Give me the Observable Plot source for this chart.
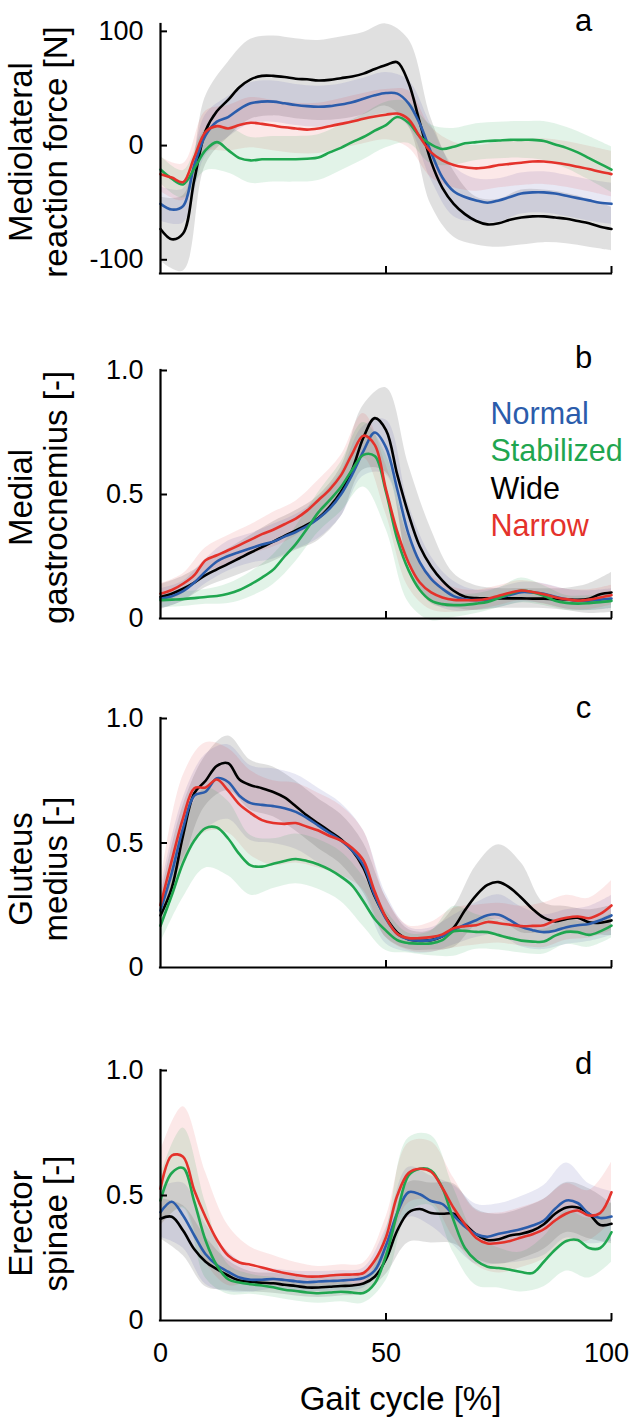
<!DOCTYPE html>
<html>
<head>
<meta charset="utf-8">
<script src="https://cdn.jsdelivr.net/npm/d3@7"></script>
<script src="https://cdn.jsdelivr.net/npm/@observablehq/plot@0.6"></script>
<style>
  html, body { margin: 0; padding: 0; background: #fff; }
  #chart { width: 629px; }
  #chart svg { display: block; }
</style>
</head>
<body>
<div id="chart"></div>
<script>
// ---------- categories ----------
const gaitPct = [0,2.5,5,7.5,10,12.5,15,17.5,20,22.5,25,27.5,30,32.5,35,37.5,40,42.5,45,47.5,50,52.5,55,57.5,60,62.5,65,67.5,70,72.5,75,77.5,80,82.5,85,87.5,90,92.5,95,97.5,100];
const sdPct = [0,5,10,15,20,25,30,35,40,45,50,55,60,65,70,75,80,85,90,95,100];
const conditions = ["Normal", "Stabilized", "Wide", "Narrow"];
const conditionColors = ["#2b5cab", "#1fa64f", "#000000", "#e4322b"];
const bandColors = ["#4a4aa8", "#1fa64f", "#000000", "#e4322b"];
const bandOpacity = [0.13, 0.13, 0.12, 0.11];

// ---------- a: mediolateral reaction force [N] ----------
const forceNormal = [-51,-56,-53,-17,9,21,25,32,37,38.5,38.5,37,35.5,34.5,34,34.5,36,38,41,44,46,45.5,37,19,-6,-28,-40,-45,-48,-50,-48,-45,-42,-41,-41,-42,-44,-46,-48,-50,-51];
const forceStabilized = [-21,-29,-34,-20,-4,3,-4,-11,-13,-12,-12,-12,-12,-11.5,-10.5,-6,-2,3,7.5,13,18,25,20,8,1,-3,-1,2,3,4,4.5,5,5,5,4,1,-2,-6,-11,-16,-21];
const forceWide = [-73,-82,-77,-30,13,30,40,51,58,61,61,60,58.5,58,57,57.5,59,60.5,63,67,70.5,73,55,20,-14,-37,-51,-60,-66,-69,-68,-65,-63,-62,-62,-63,-64,-66,-68,-71,-73];
const forceNarrow = [-25,-28,-32,-10,12,17,15,18,20,19,17.5,16,15,14,15,17,19,21,23.5,25.5,27,28,23,7.5,-6,-13,-17,-19,-20,-19,-17,-16,-15,-14,-14,-15,-16.5,-18.5,-20.5,-23,-25];
const forceNormalSD = [15,15,18,18,18,18,18,18,18,18,18,20,24,22,19,19,18,18,18,18,18];
const forceStabilizedSD = [12,12,18,20,20,20,20,20,20,20,20,18,17,16,16,16,16,17,18,19,20];
const forceWideSD = [28,33,30,33,35,35,35,35,36,36,36,38,38,29,21,21,24,23,22,21,19];
const forceNarrowSD = [15,16,18,20,22,22,22,22,22,22,22,25,22,20,20,20,20,20,20,20,20];

// ---------- b: medial gastrocnemius [-] ----------
const gastNormal = [0.08,0.09,0.11,0.145,0.19,0.23,0.252,0.268,0.283,0.298,0.31,0.33,0.349,0.372,0.403,0.443,0.5,0.58,0.675,0.75,0.69,0.52,0.34,0.226,0.16,0.12,0.09,0.078,0.074,0.076,0.084,0.095,0.106,0.105,0.1,0.088,0.078,0.071,0.072,0.076,0.08];
const gastStabilized = [0.074,0.076,0.078,0.082,0.087,0.091,0.1,0.115,0.138,0.165,0.197,0.25,0.3,0.362,0.428,0.477,0.53,0.6,0.66,0.655,0.51,0.32,0.195,0.115,0.072,0.058,0.054,0.055,0.06,0.067,0.083,0.1,0.113,0.106,0.092,0.072,0.063,0.06,0.062,0.066,0.071];
const gastWide = [0.087,0.1,0.12,0.145,0.175,0.198,0.22,0.243,0.266,0.288,0.31,0.333,0.355,0.378,0.405,0.45,0.51,0.6,0.73,0.808,0.76,0.58,0.42,0.29,0.21,0.153,0.112,0.088,0.082,0.081,0.081,0.081,0.081,0.08,0.08,0.078,0.077,0.075,0.08,0.098,0.105];
const gastNarrow = [0.1,0.115,0.14,0.175,0.235,0.255,0.275,0.296,0.318,0.34,0.358,0.38,0.403,0.435,0.477,0.52,0.577,0.664,0.737,0.7,0.52,0.35,0.225,0.145,0.105,0.085,0.075,0.074,0.074,0.08,0.092,0.104,0.113,0.107,0.098,0.086,0.078,0.072,0.076,0.085,0.094];
const gastNormalSD = [0.04,0.04,0.05,0.06,0.06,0.07,0.07,0.08,0.09,0.1,0.11,0.12,0.09,0.06,0.04,0.04,0.04,0.04,0.04,0.04,0.04];
const gastStabilizedSD = [0.03,0.03,0.03,0.04,0.05,0.06,0.07,0.08,0.1,0.13,0.15,0.13,0.08,0.05,0.04,0.04,0.05,0.04,0.03,0.03,0.03];
const gastWideSD = [0.05,0.05,0.05,0.06,0.07,0.08,0.08,0.09,0.1,0.13,0.17,0.2,0.15,0.07,0.05,0.04,0.04,0.04,0.045,0.06,0.08];
const gastNarrowSD = [0.04,0.04,0.05,0.06,0.06,0.07,0.07,0.08,0.08,0.09,0.1,0.1,0.07,0.05,0.04,0.04,0.04,0.04,0.04,0.04,0.04];

// ---------- c: gluteus medius [-] ----------
const gluteNormal = [0.229,0.38,0.56,0.69,0.706,0.76,0.745,0.69,0.66,0.653,0.648,0.64,0.625,0.6,0.57,0.54,0.51,0.47,0.41,0.29,0.195,0.135,0.112,0.108,0.11,0.125,0.15,0.172,0.19,0.21,0.212,0.19,0.163,0.15,0.142,0.148,0.162,0.17,0.175,0.19,0.209];
const gluteStabilized = [0.168,0.29,0.42,0.51,0.56,0.562,0.518,0.455,0.41,0.405,0.417,0.428,0.436,0.428,0.414,0.393,0.365,0.329,0.265,0.195,0.148,0.11,0.098,0.096,0.097,0.11,0.145,0.147,0.143,0.142,0.13,0.118,0.108,0.104,0.104,0.128,0.143,0.142,0.131,0.145,0.168];
const gluteWide = [0.209,0.32,0.53,0.7,0.75,0.81,0.82,0.755,0.732,0.72,0.705,0.683,0.648,0.61,0.578,0.547,0.515,0.47,0.4,0.285,0.2,0.14,0.113,0.107,0.11,0.125,0.16,0.23,0.29,0.332,0.343,0.32,0.28,0.235,0.2,0.185,0.195,0.2,0.182,0.18,0.189];
const gluteNarrow = [0.251,0.43,0.6,0.72,0.723,0.755,0.71,0.655,0.62,0.592,0.58,0.577,0.58,0.565,0.55,0.528,0.51,0.48,0.43,0.305,0.2,0.135,0.118,0.118,0.122,0.133,0.158,0.166,0.17,0.183,0.178,0.172,0.166,0.167,0.17,0.189,0.2,0.205,0.198,0.215,0.249];
const gluteNormalSD = [0.08,0.12,0.15,0.15,0.15,0.15,0.15,0.15,0.15,0.14,0.1,0.05,0.05,0.06,0.07,0.08,0.08,0.07,0.07,0.07,0.08];
const gluteStabilizedSD = [0.07,0.14,0.16,0.15,0.12,0.1,0.1,0.1,0.1,0.1,0.08,0.04,0.05,0.1,0.07,0.06,0.05,0.05,0.05,0.05,0.05];
const gluteWideSD = [0.07,0.12,0.1,0.11,0.1,0.1,0.1,0.1,0.1,0.1,0.08,0.04,0.04,0.08,0.12,0.15,0.14,0.06,0.05,0.05,0.06];
const gluteNarrowSD = [0.08,0.17,0.18,0.17,0.17,0.17,0.16,0.15,0.14,0.12,0.08,0.05,0.06,0.08,0.08,0.08,0.08,0.09,0.09,0.08,0.1];

// ---------- d: erector spinae [-] ----------
const erectorNormal = [0.433,0.475,0.42,0.34,0.265,0.222,0.195,0.172,0.163,0.163,0.166,0.162,0.157,0.153,0.156,0.158,0.16,0.163,0.17,0.2,0.3,0.43,0.513,0.505,0.478,0.466,0.42,0.375,0.345,0.335,0.347,0.356,0.366,0.38,0.4,0.447,0.48,0.47,0.427,0.41,0.416];
const erectorStabilized = [0.48,0.59,0.61,0.475,0.32,0.22,0.165,0.152,0.145,0.14,0.133,0.123,0.118,0.112,0.109,0.112,0.115,0.112,0.11,0.148,0.26,0.43,0.58,0.607,0.6,0.53,0.4,0.29,0.24,0.215,0.21,0.203,0.194,0.19,0.235,0.283,0.318,0.322,0.29,0.29,0.353];
const erectorWide = [0.407,0.415,0.36,0.285,0.235,0.205,0.18,0.16,0.155,0.151,0.149,0.143,0.138,0.132,0.132,0.135,0.138,0.14,0.148,0.175,0.245,0.36,0.432,0.446,0.43,0.427,0.427,0.385,0.345,0.322,0.325,0.34,0.347,0.36,0.385,0.427,0.452,0.452,0.427,0.382,0.387];
const erectorNarrow = [0.527,0.66,0.655,0.52,0.413,0.323,0.26,0.232,0.223,0.212,0.2,0.19,0.182,0.176,0.176,0.18,0.183,0.184,0.19,0.24,0.333,0.5,0.59,0.607,0.595,0.53,0.45,0.385,0.33,0.308,0.31,0.318,0.332,0.345,0.365,0.4,0.428,0.44,0.42,0.43,0.513];
const erectorNormalSD = [0.1,0.13,0.12,0.08,0.05,0.04,0.04,0.04,0.04,0.04,0.07,0.1,0.1,0.12,0.12,0.12,0.13,0.14,0.15,0.12,0.1];
const erectorStabilizedSD = [0.1,0.16,0.15,0.06,0.04,0.04,0.04,0.04,0.04,0.04,0.1,0.15,0.14,0.13,0.1,0.08,0.08,0.1,0.12,0.12,0.12];
const erectorWideSD = [0.08,0.1,0.1,0.06,0.04,0.04,0.04,0.04,0.04,0.04,0.06,0.12,0.12,0.12,0.1,0.1,0.1,0.1,0.1,0.1,0.08];
const erectorNarrowSD = [0.15,0.2,0.18,0.12,0.07,0.06,0.05,0.04,0.04,0.04,0.08,0.12,0.12,0.12,0.11,0.12,0.12,0.12,0.12,0.1,0.12];

// ---------- tick labels ----------
const forceTicks = [-100, 0, 100];
const forceTickLabels = ["-100", "0", "100"];
const emgTicks = [0, 0.5, 1];
const emgTickLabels = ["0", "0.5", "1.0"];
const gaitTicks = [0, 50, 100];
const gaitTickLabels = ["0", "50", "100"];

// ---------- layout ----------
const FONT = "'Liberation Sans', Arial, Helvetica, sans-serif";
const W = 629, ML = 160, MR = 18;
const frameMidX = ML + (W - ML - MR) / 2;

function panel(cfg) {
  const { means, sds, yDomain, ticks, tickLabels, height, marginTop, marginBottom,
          letter, letterDy, titles, titleDy, showXLabels, legend } = cfg;
  const marks = [];
  // SD bands (Wide drawn first)
  for (const k of [2, 0, 3, 1]) {
    const m = means[k], s = sds[k];
    const rows = sdPct.map((x, j) => {
      const mu = m[gaitPct.indexOf(x)];
      return { x, lo: mu - s[j], hi: mu + s[j] };
    });
    marks.push(Plot.areaY(rows, { x: "x", y1: "lo", y2: "hi", fill: bandColors[k], fillOpacity: bandOpacity[k], curve: "catmull-rom" }));
  }
  // mean lines
  for (const k of [2, 0, 1, 3]) {
    const rows = gaitPct.map((x, i) => ({ x, y: means[k][i] }));
    marks.push(Plot.lineY(rows, { x: "x", y: "y", stroke: conditionColors[k], strokeWidth: 2.6, curve: "catmull-rom" }));
  }
  // axis lines
  marks.push(Plot.ruleX([0], { stroke: "#000", strokeWidth: 2.2, strokeLinecap: "square" }));
  marks.push(Plot.ruleY([yDomain[0]], { stroke: "#000", strokeWidth: 2.2, strokeLinecap: "square" }));
  // y tick labels
  marks.push(Plot.axisY({ ticks, tickSize: 0, tickPadding: 17, tickFormat: d => tickLabels[ticks.indexOf(d)], fontSize: 27, label: null }));
  // inward y ticks
  marks.push(Plot.axisY({ ticks: ticks.filter(t => t !== yDomain[0]), tickSize: 7, dx: 7, strokeWidth: 2, tickFormat: () => "", label: null }));
  // inward x ticks
  marks.push(Plot.axisX({ ticks: gaitTicks.slice(1), tickSize: 7, dy: -7, strokeWidth: 2, tickFormat: () => "", label: null }));
  if (showXLabels) {
    const fmt = d => gaitTickLabels[gaitTicks.indexOf(d)];
    marks.push(Plot.axisX({ ticks: gaitTicks.slice(0, 2), tickSize: 0, tickPadding: 22, fontSize: 27, label: null, tickFormat: fmt }));
    marks.push(Plot.axisX({ ticks: gaitTicks.slice(2), tickSize: 0, tickPadding: 22, fontSize: 27, label: null, tickFormat: fmt, dx: -5 }));
    marks.push(Plot.text(["Gait cycle [%]"], { frameAnchor: "bottom", dx: 400 - frameMidX, dy: 89, fontSize: 33, lineAnchor: "bottom", textAnchor: "middle" }));
  }
  // panel letter
  marks.push(Plot.text([letter], { frameAnchor: "top-right", dx: -28, dy: letterDy, fontSize: 31, textAnchor: "middle", lineAnchor: "bottom" }));
  // y titles (two lines, rotated)
  titles.forEach((t, i) => {
    marks.push(Plot.text([t], { frameAnchor: "left", rotate: -90, dx: (i === 0 ? 31 : 66) - ML, dy: titleDy, fontSize: 33, textAnchor: "middle", lineAnchor: "bottom" }));
  });
  if (legend) {
    conditions.forEach((c, i) => {
      marks.push(Plot.text([c], { frameAnchor: "top-left", dx: 330, dy: 53 + i * 37.5, fill: conditionColors[i], fontSize: 30.5, textAnchor: "start", lineAnchor: "bottom" }));
    });
  }
  return Plot.plot({
    width: W, height, marginLeft: ML, marginRight: MR, marginTop, marginBottom,
    x: { domain: [0, 100], label: null },
    y: { domain: yDomain, label: null },
    style: { fontFamily: FONT, background: "white", overflow: "visible", color: "#000" },
    marks
  });
}

const chart = document.getElementById("chart");
chart.append(panel({
  means: [forceNormal, forceStabilized, forceWide, forceNarrow],
  sds: [forceNormalSD, forceStabilizedSD, forceWideSD, forceNarrowSD],
  yDomain: [-112, 106], ticks: forceTicks, tickLabels: forceTickLabels,
  height: 300, marginTop: 24, marginBottom: 27,
  letter: "a", letterDy: 6, titles: ["Mediolateral", "reaction force [N]"], titleDy: 3
}));
chart.append(panel({
  means: [gastNormal, gastStabilized, gastWide, gastNarrow],
  sds: [gastNormalSD, gastStabilizedSD, gastWideSD, gastNarrowSD],
  yDomain: [0, 1], ticks: emgTicks, tickLabels: emgTickLabels,
  height: 345, marginTop: 70, marginBottom: 27,
  letter: "b", letterDy: -3, titles: ["Medial", "gastrocnemius [-]"], titleDy: 3, legend: true
}));
chart.append(panel({
  means: [gluteNormal, gluteStabilized, gluteWide, gluteNarrow],
  sds: [gluteNormalSD, gluteStabilizedSD, gluteWideSD, gluteNarrowSD],
  yDomain: [0, 1], ticks: emgTicks, tickLabels: emgTickLabels,
  height: 350, marginTop: 73, marginBottom: 28,
  letter: "c", letterDy: -1, titles: ["Gluteus", "medius [-]"], titleDy: 26
}));
chart.append(panel({
  means: [erectorNormal, erectorStabilized, erectorWide, erectorNarrow],
  sds: [erectorNormalSD, erectorStabilizedSD, erectorWideSD, erectorNarrowSD],
  yDomain: [0, 1], ticks: emgTicks, tickLabels: emgTickLabels,
  height: 426, marginTop: 75, marginBottom: 101,
  letter: "d", letterDy: 3, titles: ["Erector", "spinae [-]"], titleDy: 28, showXLabels: true
}));
</script>
</body>
</html>
